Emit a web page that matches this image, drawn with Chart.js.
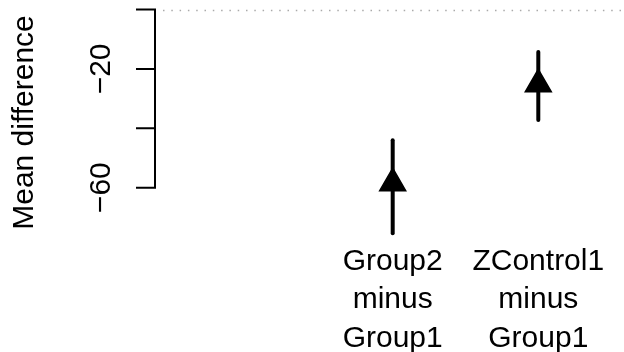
<!DOCTYPE html>
<html><head><meta charset="utf-8">
<script src="https://cdn.jsdelivr.net/npm/chart.js@4/dist/chart.umd.min.js"></script>
<style>html,body{margin:0;padding:0;background:#fff;} #wrap{width:624px;height:352px;position:relative;}</style>
</head><body><div id="wrap"><canvas id="c" width="624" height="352"></canvas></div>
<script>
const categories = [['Group2', 'minus', 'Group1'], ['ZControl1', 'minus', 'Group1']];
const meanDiff = [-58.5, -25.2];
const lowerCI = [-75.3, -37.2];
const upperCI = [-44.0, -14.3];
const yTickValues = [0, -20, -40, -60];
const yTickLabels = ['', '\u221220', '', '\u221260'];
const yTitle = 'Mean difference';
const refLine = 0;

const FONT = "'Liberation Sans', Arial, Helvetica, sans-serif";
const FS = 30;

const intervalSets = categories.map((c, i) => ({
  type: 'line',
  data: [{x: i + 1, y: lowerCI[i]}, {x: i + 1, y: upperCI[i]}],
  borderColor: '#000', borderWidth: 4, borderCapStyle: 'round',
  pointRadius: 0, showLine: true, clip: false, order: 2
}));
const meanSet = {
  type: 'scatter',
  data: meanDiff.map((v, i) => ({x: i + 1, y: v})),
  pointStyle: 'triangle', pointRadius: 15, pointBorderWidth: 1.5,
  pointBackgroundColor: '#000', pointBorderColor: '#000', clip: false, order: 1
};

const decor = {
  id: 'decor',
  beforeDatasetsDraw(chart) {
    const {ctx, chartArea, scales: {y}} = chart;
    const py = Math.round(y.getPixelForValue(refLine)) + 0.5;
    ctx.save();
    ctx.strokeStyle = '#aaaaaa'; ctx.lineWidth = 1.5;
    ctx.setLineDash([1.5, 6.8]);
    ctx.beginPath(); ctx.moveTo(chartArea.left + 8, py); ctx.lineTo(chartArea.right, py); ctx.stroke();
    ctx.restore();
  },
  afterDraw(chart) {
    const {ctx, chartArea, scales: {x, y}} = chart;
    const ax = chartArea.left;
    ctx.save();
    ctx.strokeStyle = '#000'; ctx.lineWidth = 2; ctx.lineCap = 'butt';
    ctx.beginPath();
    const yt = y.getPixelForValue(Math.max(...yTickValues));
    const yb = y.getPixelForValue(Math.min(...yTickValues));
    ctx.moveTo(ax, yt - 1); ctx.lineTo(ax, yb + 1);
    yTickValues.forEach(v => { const p = y.getPixelForValue(v); ctx.moveTo(ax - 19, p); ctx.lineTo(ax, p); });
    ctx.stroke();
    ctx.fillStyle = '#000';
    ctx.font = FS + 'px ' + FONT;
    ctx.textAlign = 'center'; ctx.textBaseline = 'alphabetic';
    yTickValues.forEach((v, i) => {
      if (!yTickLabels[i]) return;
      const p = y.getPixelForValue(v);
      ctx.save(); ctx.translate(ax - 45, p); ctx.rotate(-Math.PI / 2); ctx.fillText(yTickLabels[i], 0, 0); ctx.restore();
    });
    ctx.save(); ctx.translate(33, 122.5); ctx.rotate(-Math.PI / 2); ctx.fillText(yTitle, 0, 0); ctx.restore();
    categories.forEach((lines, i) => {
      const px = x.getPixelForValue(i + 1);
      lines.forEach((t, j) => ctx.fillText(t, px, chartArea.bottom + 30 + j * 38.3));
    });
    ctx.restore();
  }
};

new Chart(document.getElementById('c'), {
  type: 'scatter',
  data: {datasets: [...intervalSets, meanSet]},
  options: {
    responsive: false, animation: false, devicePixelRatio: 1,
    layout: {autoPadding: false, padding: {left: 155, top: 0, right: 0, bottom: 112}},
    plugins: {legend: {display: false}, tooltip: {enabled: false}},
    scales: {
      x: {type: 'linear', display: false, min: -0.6325, max: 2.5886},
      y: {type: 'linear', display: false, min: -77.61, max: 3.199}
    }
  },
  plugins: [decor]
});
</script></body></html>
